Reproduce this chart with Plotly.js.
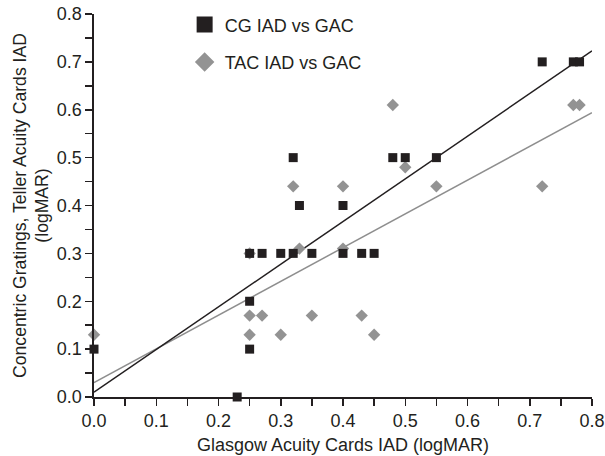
<!DOCTYPE html>
<html><head><meta charset="utf-8">
<script src="https://cdn.plot.ly/plotly-3.0.1.min.js"></script>
<style>body{margin:0}#chart{width:605px;height:456px}</style>
</head><body><div id="chart"></div>
<script>
// CG IAD vs GAC (black squares)
const cgX = [0.00, 0.23, 0.25, 0.25, 0.25, 0.27, 0.30, 0.32, 0.32, 0.33, 0.35, 0.40, 0.40, 0.43, 0.45, 0.48, 0.50, 0.55, 0.72, 0.77, 0.78];
const cgY = [0.10, 0.00, 0.30, 0.20, 0.10, 0.30, 0.30, 0.30, 0.50, 0.40, 0.30, 0.40, 0.30, 0.30, 0.30, 0.50, 0.50, 0.50, 0.70, 0.70, 0.70];
// TAC IAD vs GAC (grey diamonds)
const tacX = [0.00, 0.25, 0.25, 0.25, 0.27, 0.30, 0.32, 0.33, 0.35, 0.40, 0.40, 0.43, 0.45, 0.48, 0.50, 0.55, 0.72, 0.77, 0.78];
const tacY = [0.13, 0.30, 0.17, 0.13, 0.17, 0.13, 0.44, 0.31, 0.17, 0.44, 0.31, 0.17, 0.13, 0.61, 0.48, 0.44, 0.44, 0.61, 0.61];
// regression lines
const fitX = [0, 0.8];
const cgFitY = [0.010, 0.723];
const tacFitY = [0.030, 0.594];

const black = '#231f20';
const grey = '#939393';

const traces = [
  {x: fitX, y: tacFitY, mode: 'lines', line: {color: '#8e8e8e', width: 1.5}, showlegend: false, hoverinfo: 'skip'},
  {x: fitX, y: cgFitY, mode: 'lines', line: {color: black, width: 1.5}, showlegend: false, hoverinfo: 'skip'},
  {x: tacX, y: tacY, mode: 'markers', marker: {symbol: 'diamond', size: 9.5, color: grey}, showlegend: false, cliponaxis: false},
  {x: cgX, y: cgY, mode: 'markers', marker: {symbol: 'square', size: 9, color: black}, showlegend: false, cliponaxis: false},
  {x: [null], y: [null], mode: 'markers', name: 'CG IAD vs GAC', legendgroup: 'a', marker: {symbol: 'square', size: 16, color: black}},
  {x: [null], y: [null], mode: 'markers', name: 'TAC IAD vs GAC', legendgroup: 'b', marker: {symbol: 'diamond', size: 15, color: grey}}
];

const axisCommon = {
  showgrid: false, zeroline: false, showline: true, linecolor: black, linewidth: 1.6,
  ticks: 'outside', ticklen: 7, tickwidth: 1.5, tickcolor: black,
  tickformat: '.1f', dtick: 0.1,
  tickfont: {size: 18, color: black},
  minor: {dtick: 0.05, ticks: 'outside', ticklen: 7, tickwidth: 1.5, tickcolor: black}
};

const layout = {
  width: 605, height: 456,
  margin: {l: 94, r: 13, t: 14, b: 59, autoexpand: false},
  paper_bgcolor: 'white', plot_bgcolor: 'white',
  font: {family: 'Liberation Sans, Arial, sans-serif', color: black},
  xaxis: Object.assign({}, axisCommon, {range: [0, 0.8], automargin: false,
    title: {text: 'Glasgow Acuity Cards IAD (logMAR)', font: {size: 18}, standoff: 8}}),
  yaxis: Object.assign({}, axisCommon, {range: [0, 0.8], automargin: false,
    title: {text: 'Concentric Gratings, Teller Acuity Cards IAD<br>(logMAR)', font: {size: 17.6}, standoff: 3}}),
  showlegend: true,
  legend: {x: 0.182, y: 1.02, xanchor: 'left', yanchor: 'top', bgcolor: 'rgba(0,0,0,0)',
    font: {size: 18, color: black}, tracegroupgap: 11},
};

Plotly.newPlot('chart', traces, layout, {displayModeBar: false, staticPlot: true});
</script></body></html>
